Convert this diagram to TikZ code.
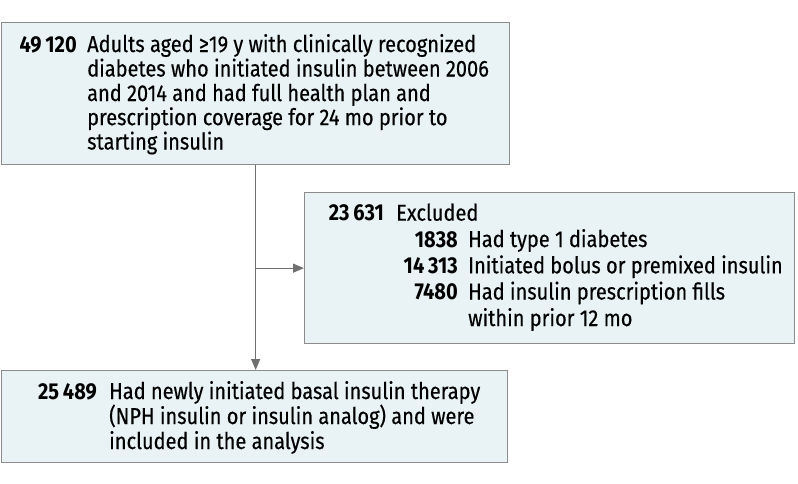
\documentclass[tikz,border=0pt]{standalone}
\usepackage{fontspec}
\setmainfont{Fira Sans}[FakeStretch=0.87, UprightFeatures={FakeBold=0.35}]
\usetikzlibrary{arrows.meta}
\definecolor{boxfill}{HTML}{E9F2F4}
\definecolor{boxline}{HTML}{8C8C8C}
\definecolor{arrowc}{HTML}{707070}
\newcommand{\fsz}{\fontsize{23}{26}\selectfont}
\begin{document}
\begin{tikzpicture}[x=1pt,y=-1pt,
  box/.style={draw=boxline, fill=boxfill, line width=1.3pt, inner sep=0pt, anchor=north west},
  num/.style={anchor=base east, inner sep=0pt, font=\fsz\bfseries},
  txt/.style={anchor=base west, inner sep=0pt, font=\fsz},
  conn/.style={draw=arrowc, line width=1.2pt},
  tip/.style={-{Triangle[length=11pt,width=9pt]}}]
\useasboundingbox (0,0) rectangle (798,483);
\node[box, minimum width=508pt, minimum height=142pt] (top) at (1,22) {};
\node[box, minimum width=490pt, minimum height=151pt] (excl) at (304,192) {};
\node[box, minimum width=506pt, minimum height=92pt] (final) at (1,370) {};
% top box
\node[num] (n1) at (77,52) {49\,120};
\node[txt] (t1a) at (87,52) {Adults aged ≥19 y with clinically recognized};
\node[txt] (t1b) at (87,76.5) {diabetes who initiated insulin between 2006};
\node[txt] (t1c) at (87,101) {and 2014 and had full health plan and};
\node[txt] (t1d) at (87,125.2) {prescription coverage for 24 mo prior to};
\node[txt] (t1e) at (87,149.5) {starting insulin};
% excluded box
\node[num] (n2) at (384,220.7) {23\,631};
\node[txt] (t2) at (396,220.7) {Excluded};
\node[num] (n2a) at (458,247) {1838};
\node[txt] (t2a) at (468,247) {Had type 1 diabetes};
\node[num] (n2b) at (458,273.3) {14\,313};
\node[txt] (t2b) at (468,273.3) {Initiated bolus or premixed insulin};
\node[num] (n2c) at (458,299.5) {7480};
\node[txt] (t2c) at (468,299.5) {Had insulin prescription fills};
\node[txt] (t2d) at (468,326) {within prior 12 mo};
% final box
\node[num] (n3) at (97,399) {25\,489};
\node[txt] (t3a) at (109,399) {Had newly initiated basal insulin therapy};
\node[txt] (t3b) at (109,424) {(NPH insulin or insulin analog) and were};
\node[txt] (t3c) at (109,449) {included in the analysis};
% connectors
\coordinate (br) at (top.south |- excl.west);
\draw[conn, tip] (top.south) -- (top.south |- final.north);
\draw[conn, tip] (br) -- (excl.west);
\end{tikzpicture}
\end{document}
